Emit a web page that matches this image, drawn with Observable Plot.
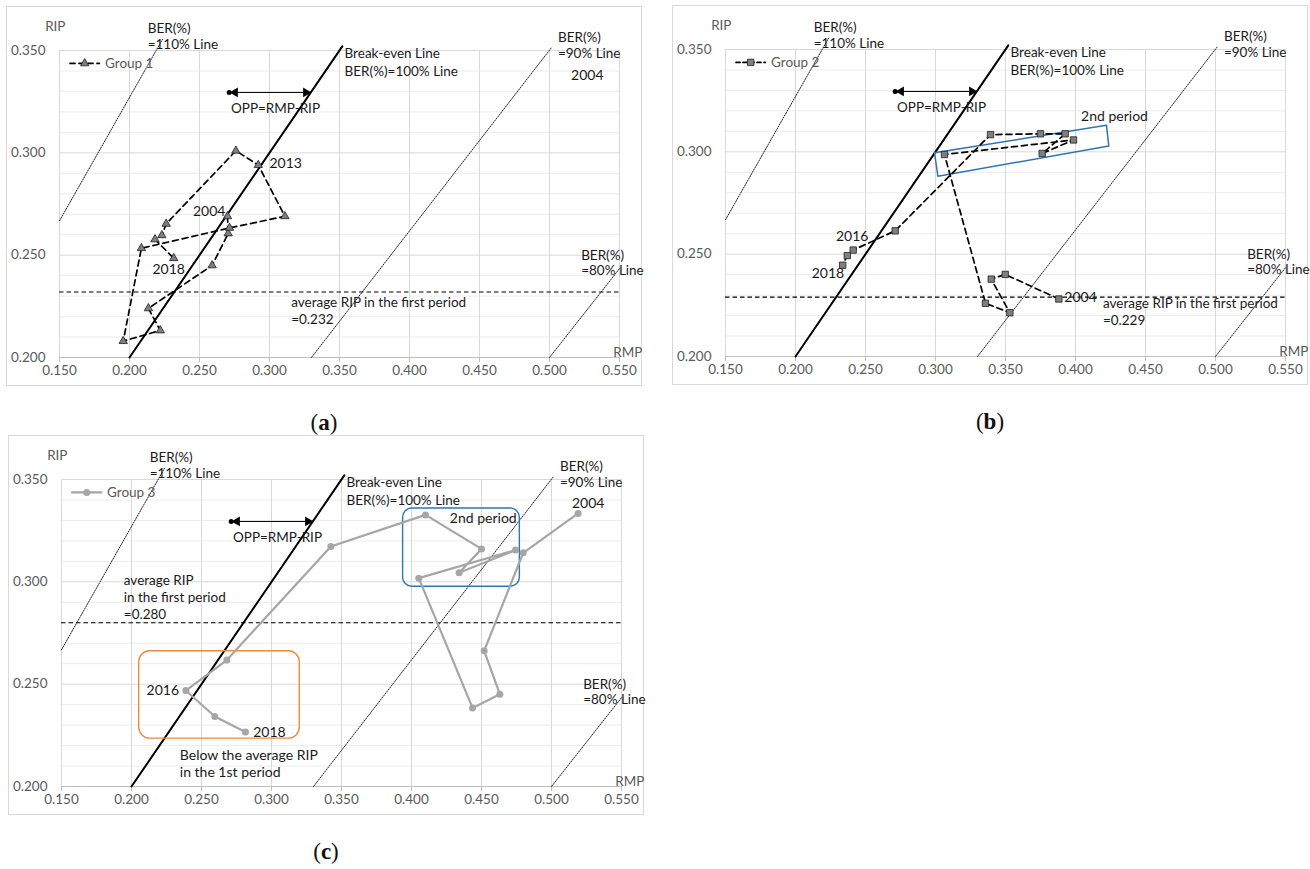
<!DOCTYPE html>
<html><head><meta charset="utf-8">
<script src="https://cdn.jsdelivr.net/npm/d3@7"></script>
<script src="https://cdn.jsdelivr.net/npm/@observablehq/plot@0.6"></script>
<style>
body{margin:0;background:#fff;font-family:Lato,"Open Sans",sans-serif;}
#root{position:relative;width:1310px;height:869px;overflow:hidden;background:#fff;}
.panel{position:absolute;border:1px solid #d9d9d9;width:634px;height:378px;}
.panel svg{display:block;overflow:visible;}
.cap{position:absolute;font-family:"Liberation Serif","DejaVu Serif",serif;font-size:23px;transform:translate(-50%,-50%);color:#111;}
</style></head><body><div id="root"></div>
<script>
// ---------- data ----------
const years = [2004,2005,2006,2007,2008,2009,2010,2011,2012,2013,2014,2015,2016,2017,2018];
const group1RMP = [0.270,0.2705,0.259,0.2135,0.222,0.1955,0.2085,0.2715,0.311,0.292,0.276,0.2262,0.2231,0.2182,0.2316];
const group1RIP = [0.269,0.2606,0.245,0.224,0.2132,0.208,0.2534,0.2633,0.269,0.294,0.301,0.2653,0.2597,0.2577,0.2485];
const group2RMP = [0.3881,0.3498,0.3398,0.3531,0.3357,0.3064,0.3986,0.3762,0.3926,0.375,0.3393,0.2712,0.2412,0.237,0.2337];
const group2RIP = [0.2281,0.2401,0.2378,0.2214,0.226,0.2987,0.3058,0.2992,0.3088,0.3088,0.3084,0.2614,0.252,0.2493,0.2446];
const group3RMP = [0.519,0.4798,0.4519,0.4631,0.4436,0.4052,0.4743,0.434,0.450,0.410,0.3424,0.2681,0.2388,0.2595,0.2814];
const group3RIP = [0.3334,0.3142,0.2663,0.2451,0.2384,0.3018,0.3155,0.3044,0.3161,0.3327,0.3173,0.2618,0.2469,0.2342,0.2266];
const groupNames = ["Group 1","Group 2","Group 3"];
const avgRIP = [0.232, 0.229, 0.280];
const xTicks = [0.15,0.2,0.25,0.3,0.35,0.4,0.45,0.5,0.55];
const yTicks = [0.2,0.25,0.3,0.35];
const yMinorTicks = [0.21,0.22,0.23,0.24,0.26,0.27,0.28,0.29,0.31,0.32,0.33,0.34];
const breakEvenRMP = [0.2,0.352], breakEvenRIP = [0.2,0.352];
const ber110RMP = [0.15,0.2236], ber110RIP = [0.2668,0.3555];
const ber90RMP = [0.33,0.5015], ber90RIP = [0.2,0.3515];
const ber80RMP = [0.5,0.55], ber80RIP = [0.2,0.2434];
const oppRMP = [0.2712, 0.3292], oppRIP = 0.3295;
const fmt = d3.format(".3f");

// ---------- panel builder ----------
function panel(cfg) {
  const pts = years.map((year, i) => ({year, rmp: cfg.rmp[i], rip: cfg.rip[i]}));
  const seg = (xs, ys) => xs.map((x, i) => ({x, y: ys[i]}));
  const T = (list, anchor, extra = {}) => Plot.text(list, {
    x: d => d[0], y: d => d[1], text: d => d[2], textAnchor: anchor, lineAnchor: "middle",
    fontSize: 13.5, fill: "#1a1a1a", ...extra});
  const refLine = (xs, ys, o) => Plot.line(seg(xs, ys), {x: "x", y: "y", ...o});
  const dotted = {stroke: "#222", strokeWidth: 1, strokeDasharray: "1.3,1.3"};
  const legY = 0.3437;
  const marks = [
    Plot.gridY(yMinorTicks, {stroke: "#ececec", strokeOpacity: 1}),
    Plot.gridY(yTicks, {stroke: "#d9d9d9", strokeOpacity: 1}),
    Plot.gridX(xTicks, {stroke: "#d9d9d9", strokeOpacity: 1}),
    Plot.ruleY([0.2], {stroke: "#bfbfbf"}),
    Plot.axisX(xTicks, {tickSize: 5, tickPadding: 3, stroke: "#bfbfbf", fill: "#595959", tickFormat: fmt, label: null, fontSize: 13.5}),
    Plot.axisY(yTicks, {tickSize: 0, tickPadding: 14, fill: "#595959", tickFormat: fmt, label: null, fontSize: 13.5}),
    refLine(ber110RMP, ber110RIP, dotted),
    refLine(ber90RMP, ber90RIP, dotted),
    refLine(ber80RMP, ber80RIP, dotted),
    refLine(breakEvenRMP, breakEvenRIP, {stroke: "#000", strokeWidth: 2}),
    Plot.ruleY([cfg.avg], {x1: 0.15, x2: 0.55, stroke: "#000", strokeWidth: 1.2, strokeDasharray: "4.5,3"}),
    // OPP double arrow
    refLine([oppRMP[0] + 0.002, oppRMP[1] - 0.002], [oppRIP, oppRIP], {stroke: "#000", strokeWidth: 1}),
    Plot.dot([[oppRMP[0] + 0.0042, oppRIP, -90], [oppRMP[1] - 0.0032, oppRIP, 90]],
      {x: d => d[0], y: d => d[1], rotate: d => d[2], symbol: "triangle", r: 3.6, fill: "#000"}),
    Plot.dot([[oppRMP[0], oppRIP]], {x: d => d[0], y: d => d[1], r: 2.5, fill: "#000"}),
    ...cfg.boxes,
    Plot.line(pts, {x: "rmp", y: "rip", stroke: cfg.stroke, strokeWidth: cfg.lineWidth, strokeDasharray: cfg.dash}),
    Plot.dot(pts, {x: "rmp", y: "rip", symbol: cfg.symbol, r: cfg.r, fill: cfg.fill, stroke: cfg.dotStroke, strokeWidth: 0.8}),
    // legend
    Plot.line(seg([0.1575, 0.1785], [legY, legY]), {x: "x", y: "y", stroke: cfg.stroke, strokeWidth: cfg.lineWidth, strokeDasharray: cfg.legendDash}),
    Plot.dot([[0.168, legY]], {x: d => d[0], y: d => d[1], symbol: cfg.symbol, r: cfg.r, fill: cfg.fill, stroke: cfg.dotStroke, strokeWidth: 0.8}),
    T([[0.1825, legY, cfg.legend]], "start", {fill: "#595959"}),
    // common annotations
    T([[0.147, 0.3615, "RIP"]], "middle", {fill: "#595959"}),
    T([[0.5455, 0.2022, "RMP"]], "start", {fill: "#595959"}),
    T([[0.213, 0.3608, "BER(%)"], [0.213, 0.3528, "=110% Line"],
       [0.3536, 0.3485, "Break-even Line"], [0.3536, 0.3397, "BER(%)=100% Line"],
       [0.506, 0.3563, "BER(%)"], [0.506, 0.3485, "=90% Line"],
       [0.5226, 0.2499, "BER(%)"], [0.5226, 0.2422, "=80% Line"],
       [0.2725, 0.3217, "OPP=RMP-RIP"]], "start"),
    T(cfg.avgText, "start"),
    T(cfg.notesStart, "start", {fontSize: 14}),
    T(cfg.notesMiddle, "middle", {fontSize: 14}),
    T(cfg.notesEnd, "end", {fontSize: 14})
  ];
  return Plot.plot({
    width: 634, height: 378, marginLeft: 52, marginRight: 22, marginTop: 43, marginBottom: 28,
    x: {domain: [0.15, 0.55]}, y: {domain: [0.2, 0.35]},
    style: {fontFamily: "Lato, 'Open Sans', sans-serif", fontSize: "13px", overflow: "visible", background: "white"},
    marks
  });
}

const blue = "#2e75b6", orange = "#f08a3c";
const panels = [
  {left: 6, top: 6, cap: "a", cfg: {
    rmp: group1RMP, rip: group1RIP, avg: avgRIP[0], legend: groupNames[0],
    symbol: "triangle", r: 3.1, fill: "#7f7f7f", dotStroke: "#1f1f1f", stroke: "#000", lineWidth: 1.7, dash: "6,4", legendDash: "5,4",
    avgText: [[0.3155, 0.2266, "average RIP in the first period"], [0.3155, 0.2186, "=" + fmt(avgRIP[0])]],
    notesStart: [[0.300, 0.2947, "2013"]],
    notesMiddle: [[0.228, 0.2431, "2018"], [0.527, 0.3378, "2004"]],
    notesEnd: [[0.2685, 0.2715, "2004"]],
    boxes: []}},
  {left: 672, top: 5, cap: "b", cfg: {
    rmp: group2RMP, rip: group2RIP, avg: avgRIP[1], legend: groupNames[1],
    symbol: "square", r: 3.6, fill: "#7f7f7f", dotStroke: "#1f1f1f", stroke: "#000", lineWidth: 1.7, dash: "6,4", legendDash: "4,3",
    avgText: [[0.4196, 0.2257, "average RIP in the first period"], [0.4196, 0.2175, "=" + fmt(avgRIP[1])]],
    notesStart: [[0.392, 0.2289, "2004"], [0.404, 0.3174, "2nd period"]],
    notesMiddle: [[0.2405, 0.2588, "2016"], [0.2232, 0.2405, "2018"]],
    notesEnd: [],
    boxes: [Plot.line([{x: 0.2993, y: 0.2995}, {x: 0.4221, y: 0.3130}, {x: 0.4238, y: 0.3028}, {x: 0.3017, y: 0.2881}],
      {x: "x", y: "y", curve: "linear-closed", stroke: blue, strokeWidth: 1.5, strokeLinejoin: "round"})]}},
  {left: 8, top: 435, cap: "c", cfg: {
    rmp: group3RMP, rip: group3RIP, avg: avgRIP[2], legend: groupNames[2],
    symbol: "circle", r: 3.5, fill: "#a6a6a6", dotStroke: "none", stroke: "#a6a6a6", lineWidth: 2.2, dash: null, legendDash: null,
    avgText: [[0.1945, 0.3005, "average RIP"], [0.1945, 0.2924, "in the first period"], [0.1945, 0.2841, "=" + fmt(avgRIP[2])]],
    notesStart: [[0.2869, 0.2266, "2018"], [0.4274, 0.3309, "2nd period"],
                 [0.2345, 0.2153, "Below the average RIP"], [0.2345, 0.2070, "in the 1st period"]],
    notesMiddle: [[0.5262, 0.3383, "2004"]],
    notesEnd: [[0.234, 0.2471, "2016"]],
    boxes: [
      Plot.rect([{x1: 0.394, x2: 0.4774, y1: 0.2976, y2: 0.3358}], {x1: "x1", x2: "x2", y1: "y1", y2: "y2", rx: 9, fill: "none", stroke: blue, strokeWidth: 1.4}),
      Plot.rect([{x1: 0.2055, x2: 0.3202, y1: 0.2234, y2: 0.2661}], {x1: "x1", x2: "x2", y1: "y1", y2: "y2", rx: 11, fill: "none", stroke: orange, strokeWidth: 1.4})
    ]}}
];

const root = document.getElementById("root");
for (const p of panels) {
  const div = document.createElement("div");
  div.className = "panel";
  div.style.left = p.left + "px";
  div.style.top = p.top + "px";
  div.appendChild(panel(p.cfg));
  root.appendChild(div);
  const cap = document.createElement("div");
  cap.className = "cap";
  cap.innerHTML = "(<b>" + p.cap + "</b>)";
  cap.style.left = (p.left + 318) + "px";
  cap.style.top = (p.top + 417) + "px";
  root.appendChild(cap);
}
</script></body></html>
